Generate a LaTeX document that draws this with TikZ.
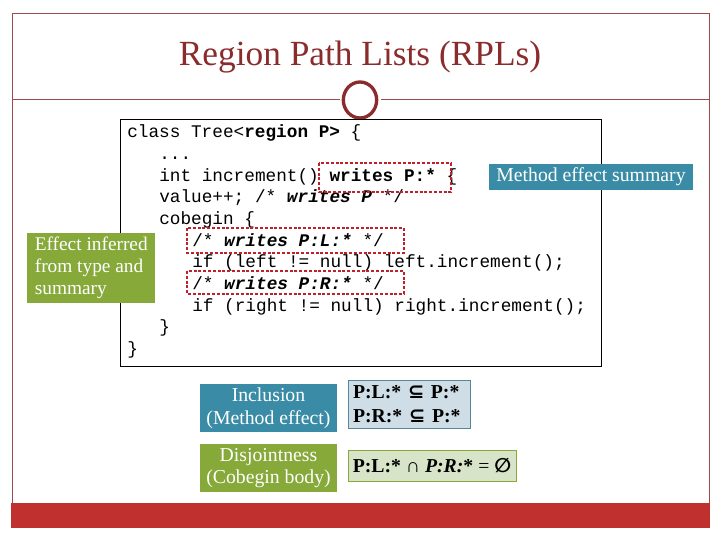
\documentclass[tikz,border=0pt]{standalone}
\usepackage{fontspec}
\usetikzlibrary{shapes.geometric}
\setmainfont{Liberation Serif}
\setmonofont{Liberation Mono}
\newfontfamily\symf{DejaVu Sans}
\definecolor{frame}{HTML}{9B4B4B}
\definecolor{titlec}{HTML}{8B2C2C}
\definecolor{barred}{HTML}{C0302F}
\definecolor{tealc}{HTML}{3A8CA6}
\definecolor{greenc}{HTML}{86A93A}
\definecolor{lblue}{HTML}{CEDDE6}
\definecolor{lgreen}{HTML}{D8E4C8}
\definecolor{dred}{HTML}{C0202A}
\begin{document}
\begin{tikzpicture}[x=0.75pt,y=-0.75pt,
  code/.style={anchor=base west,inner sep=0,font=\ttfamily\fontsize{13.3}{15}\selectfont},
  lab/.style={text=white,font=\fontsize{14.8}{17}\selectfont,inner sep=0,align=center},
  eq/.style={font=\bfseries\fontsize{14.8}{18}\selectfont,inner sep=0,align=left},
  dbox/.style={draw=dred,dashed,line width=1.6pt,dash pattern=on 2.2pt off 1.4pt}]
\useasboundingbox (0,0) rectangle (720,540);
\fill[white] (0,0) rectangle (720,540);
\draw[frame,line width=0.7pt] (12,13) rectangle (709,503);
\fill[barred] (11,503) rectangle (710,528);
\draw[frame,line width=0.7pt] (12,99) -- (340,99) (381,99) -- (709,99);
\node[draw=titlec,line width=2.5pt,ellipse,minimum width=25pt,minimum height=27pt,inner sep=0,fill=white] (ring) at (360,100) {};
\node[text=titlec,font=\fontsize{26.5}{30}\selectfont,inner sep=0] (title) at (360,57) {Region Path Lists (RPLs)};
% code box
\node[draw=black,line width=0.8pt,minimum width=361pt,minimum height=185pt,anchor=north west,inner sep=0] (codebox) at (120,119) {};
\node[code] (l1) at (127,137) {class Tree<\textbf{region P}\textbf{>} \{};
\node[code] (l2) at (159,159) {...};
\node[code] (l3) at (159,181) {int increment() \textbf{writes P:*} \{};
\node[code] (l4) at (159,202) {value++; /* \textbf{\textit{writes P}} */};
\node[code] (l5) at (159,224) {cobegin \{};
\node[code] (l6) at (192,246) {/* \textbf{\textit{writes P:L:*}} */};
\node[code] (l7) at (192,267) {if (left != null) left.increment();};
\node[code] (l8) at (192,289) {/* \textbf{\textit{writes P:R:*}} */};
\node[code] (l9) at (192,311) {if (right != null) right.increment();};
\node[code] (l10) at (159,332) {\}};
\node[code] (l11) at (127,354) {\}};
% dashed highlight boxes
\draw[dbox] (319,163) rectangle (451,192);
\draw[dbox] (187,228) rectangle (404,253);
\draw[dbox] (187,271) rectangle (404,294);
% callouts
\node[fill=tealc,lab,minimum width=153pt,minimum height=19pt] (mes) at (591,177) {Method effect summary};
\node[fill=greenc,text=white,font=\fontsize{14.5}{16.5}\selectfont,align=left,anchor=north west,minimum width=96pt,minimum height=52.5pt,inner sep=3pt] (eff) at (27,233) {Effect inferred\\from type and\\summary};
% bottom
\node[fill=tealc,lab,minimum width=103pt,minimum height=36pt] (incl) at (268.5,408) {Inclusion\\(Method effect)};
\node[fill=greenc,lab,minimum width=103pt,minimum height=36pt] (disj) at (268.5,468) {Disjointness\\(Cobegin body)};
\node[fill=lblue,draw=tealc!60!gray,eq,minimum width=91.5pt,minimum height=36pt,text width=84pt] (incq) at (409,404) {P:L:* {\symf\bfseries ⊆} P:*\\P:R:* {\symf\bfseries ⊆} P:*};
\node[fill=lgreen,draw=greenc,eq,minimum width=126pt,minimum height=23pt] (disq) at (432,465.5) {P:L:* {\symf\normalfont ∩} \textit{P:R:}* {\symf\normalfont =} {\symf ∅}};
\end{tikzpicture}
\end{document}
